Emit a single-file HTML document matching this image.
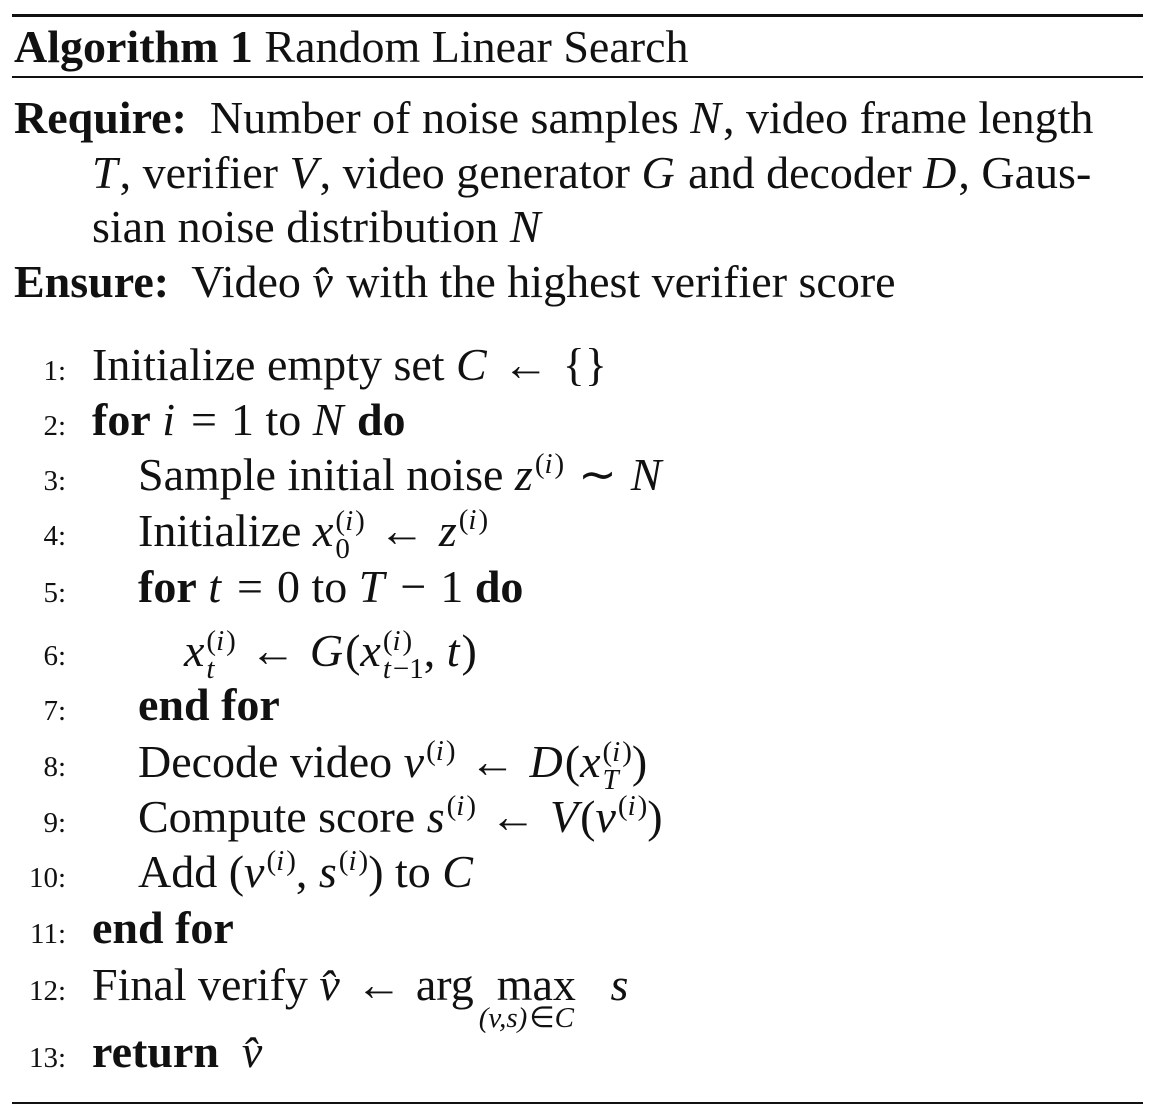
<!DOCTYPE html>
<html><head><meta charset="utf-8">
<style>
body{margin:0;background:#fff;width:1168px;height:1120px;position:relative;overflow:hidden;font-family:"Liberation Serif",serif;color:#111;}
.r{position:absolute;left:12px;width:1131px;background:#111;}
.l{position:absolute;font-size:46px;line-height:46px;white-space:nowrap;}
.n{position:absolute;font-size:29px;line-height:29px;width:56px;text-align:right;left:10px;}
i{font-style:italic;padding-right:2px}
.s{position:relative;font-size:29px;}
.sp{top:-17px}
.ss{display:inline-block;vertical-align:-12px;font-size:29px;line-height:28px;}
.ss>span{display:block}
.op{margin:0 14px}
</style></head><body>
<div class="r" style="top:14px;height:3px"></div>
<div class="l" style="left:14px;top:24px;"><b>Algorithm 1</b> Random Linear Search</div>
<div class="r" style="top:76px;height:2px"></div>
<div class="l" style="left:14px;top:95px"><b>Require:</b>&nbsp; Number of noise samples <i>N</i>, video frame length</div>
<div class="l" style="left:92px;top:150px"><i>T</i>, verifier <i>V</i>, video generator <i>G</i> and decoder <i>D</i>, Gaus-</div>
<div class="l" style="left:92px;top:204px">sian noise distribution <i>N</i></div>
<div class="l" style="left:14px;top:259px"><b>Ensure:</b>&nbsp; Video <i>v̂</i> with the highest verifier score</div>

<div class="n" style="top:357px">1:</div><div class="l" style="left:92px;top:342px">Initialize empty set <i>C</i><span class="op">←</span>{}</div>
<div class="n" style="top:412px">2:</div><div class="l" style="left:92px;top:397px"><b>for</b> <i>i</i><span class="op">=</span>1 to <i>N</i> <b>do</b></div>
<div class="n" style="top:467px">3:</div><div class="l" style="left:138px;top:452px">Sample initial noise <i>z</i><span class="s sp">(<i>i</i>)</span><span class="op">∼</span><i>N</i></div>
<div class="n" style="top:522px">4:</div><div class="l" style="left:138px;top:507px">Initialize <i>x</i><span class="ss"><span>(<i>i</i>)</span><span>0</span></span><span class="op">←</span><i>z</i><span class="s sp">(<i>i</i>)</span></div>
<div class="n" style="top:579px">5:</div><div class="l" style="left:138px;top:564px"><b>for</b> <i>t</i><span class="op">=</span>0 to <i>T</i><span class="op">−</span>1 <b>do</b></div>
<div class="n" style="top:642px">6:</div><div class="l" style="left:184px;top:627px"><i>x</i><span class="ss"><span>(<i>i</i>)</span><span><i>t</i></span></span><span class="op">←</span><i>G</i>(<i>x</i><span class="ss"><span>(<i>i</i>)</span><span><i>t</i>−1</span></span>, <i>t</i>)</div>
<div class="n" style="top:697px">7:</div><div class="l" style="left:138px;top:682px"><b>end for</b></div>
<div class="n" style="top:753px">8:</div><div class="l" style="left:138px;top:738px">Decode video <i>v</i><span class="s sp">(<i>i</i>)</span><span class="op">←</span><i>D</i>(<i>x</i><span class="ss"><span>(<i>i</i>)</span><span><i>T</i></span></span>)</div>
<div class="n" style="top:809px">9:</div><div class="l" style="left:138px;top:794px">Compute score <i>s</i><span class="s sp">(<i>i</i>)</span><span class="op">←</span><i>V</i>(<i>v</i><span class="s sp">(<i>i</i>)</span>)</div>
<div class="n" style="top:864px">10:</div><div class="l" style="left:138px;top:849px">Add (<i>v</i><span class="s sp">(<i>i</i>)</span>, <i>s</i><span class="s sp">(<i>i</i>)</span>) to <i>C</i></div>
<div class="n" style="top:920px">11:</div><div class="l" style="left:92px;top:905px"><b>end for</b></div>
<div class="n" style="top:977px">12:</div><div class="l" style="left:92px;top:962px">Final verify <i>v̂</i><span class="op">←</span>arg&nbsp; <span style="display:inline-block;position:relative">max<span style="position:absolute;left:-18px;top:42px;font-size:29px;line-height:29px"><i>(v,s)</i>∈<i>C</i></span></span>&nbsp;&nbsp; <i>s</i></div>
<div class="n" style="top:1044px">13:</div><div class="l" style="left:92px;top:1029px"><b>return</b>&nbsp; <i>v̂</i></div>
<div class="r" style="top:1102px;height:2px"></div>
</body></html>
